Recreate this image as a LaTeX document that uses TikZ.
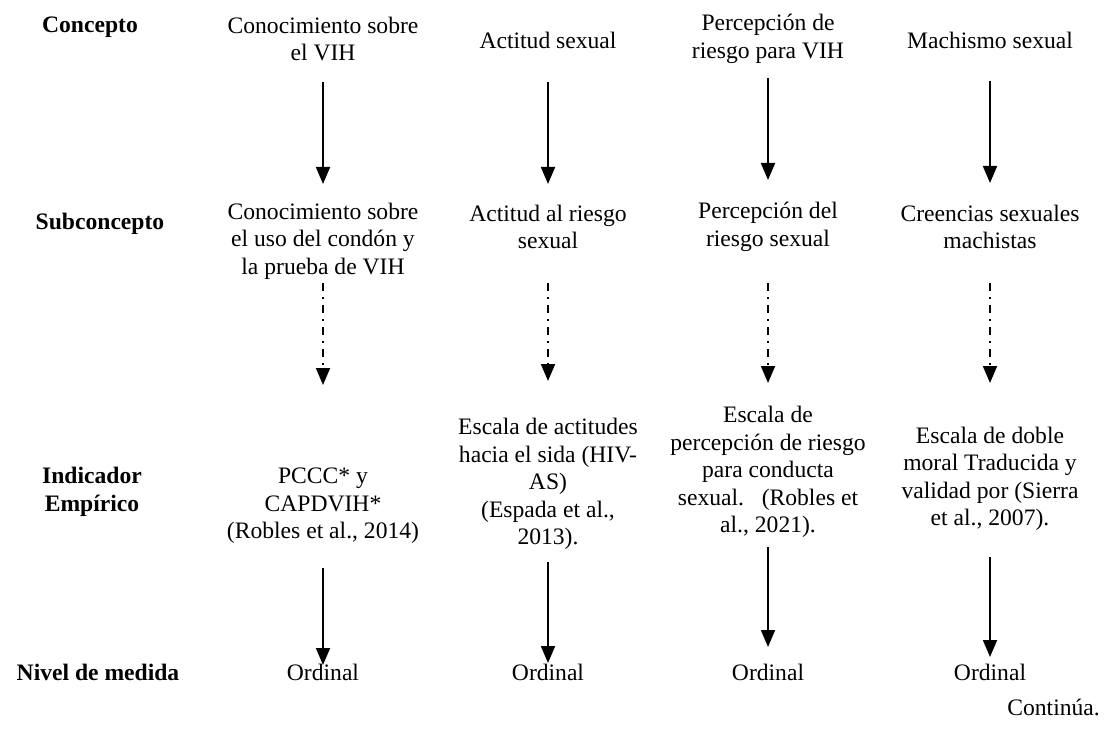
\documentclass[tikz,border=0pt]{standalone}
\usepackage{fontspec}
\setmainfont{Liberation Serif}
\usetikzlibrary{arrows.meta}
\tikzset{
  txt/.style={inner sep=0pt, align=center, font=\fontsize{23.6}{27.5}\selectfont},
  lbl/.style={txt, font=\fontsize{23.6}{27.5}\selectfont\bfseries},
  arr/.style={line width=1.8pt, -{Triangle[length=17pt,width=14pt]}},
  darr/.style={arr, dash pattern=on 8pt off 6pt on 2pt off 6pt}
}
\begin{document}
\begin{tikzpicture}[x=1pt,y=-1pt]
\useasboundingbox (0,0) rectangle (1108,746);
% row labels
\node[lbl] (l1) at (90,27) {Concepto};
\node[lbl] (l2) at (100,224) {Subconcepto};
\node[lbl] (l3) at (92,492) {Indicador\\Empírico};
\node[lbl] (l4) at (98,672) {Nivel de medida};
% row 1
\node[txt] (c1) at (323,39) {Conocimiento sobre\\el VIH};
\node[txt] (c2) at (548,40) {Actitud sexual};
\node[txt] (c3) at (768,39) {Percepción de\\riesgo para VIH};
\node[txt] (c4) at (990,40) {Machismo sexual};
% row 2
\node[txt] (s1) at (323,241) {Conocimiento sobre\\el uso del condón y\\la prueba de VIH};
\node[txt] (s2) at (548,227) {Actitud al riesgo\\sexual};
\node[txt] (s3) at (768,227) {Percepción del\\riesgo sexual};
\node[txt] (s4) at (990,227) {Creencias sexuales\\machistas};
% row 3
\node[txt] (i1) at (323,506) {PCCC* y\\CAPDVIH*\\(Robles et al., 2014)};
\node[txt] (i2) at (548,484) {Escala de actitudes\\hacia el sida (HIV-\\AS)\\(Espada et al.,\\2013).};
\node[txt] (i3) at (768,472) {Escala de\\percepción de riesgo\\para conducta\\sexual.\ \ \ (Robles et\\al., 2021).};
\node[txt] (i4) at (990,479) {Escala de doble\\moral Traducida y\\validad por (Sierra\\et al., 2007).};
% row 4
\node[txt] (n1) at (323,672) {Ordinal};
\node[txt] (n2) at (548,672) {Ordinal};
\node[txt] (n3) at (768,672) {Ordinal};
\node[txt] (n4) at (990,672) {Ordinal};
\node[txt, anchor=east] (cont) at (1100,707) {Continúa.};
% arrows
\draw[arr] (c1 |- 0,82) -- (s1 |- 0,184);
\draw[arr] (c2 |- 0,82) -- (s2 |- 0,184);
\draw[arr] (c3 |- 0,78) -- (s3 |- 0,180);
\draw[arr] (c4 |- 0,81) -- (s4 |- 0,183);
\draw[darr] (s1 |- 0,283) -- (i1 |- 0,385);
\draw[darr] (s2 |- 0,283) -- (i2 |- 0,381);
\draw[darr] (s3 |- 0,283) -- (i3 |- 0,383);
\draw[darr] (s4 |- 0,283) -- (i4 |- 0,383);
\draw[arr] (i1 |- 0,568) -- (n1 |- 0,665);
\draw[arr] (i2 |- 0,562) -- (n2 |- 0,663);
\draw[arr] (i3 |- 0,547) -- (n3 |- 0,647);
\draw[arr] (i4 |- 0,557) -- (n4 |- 0,657);
\end{tikzpicture}
\end{document}
